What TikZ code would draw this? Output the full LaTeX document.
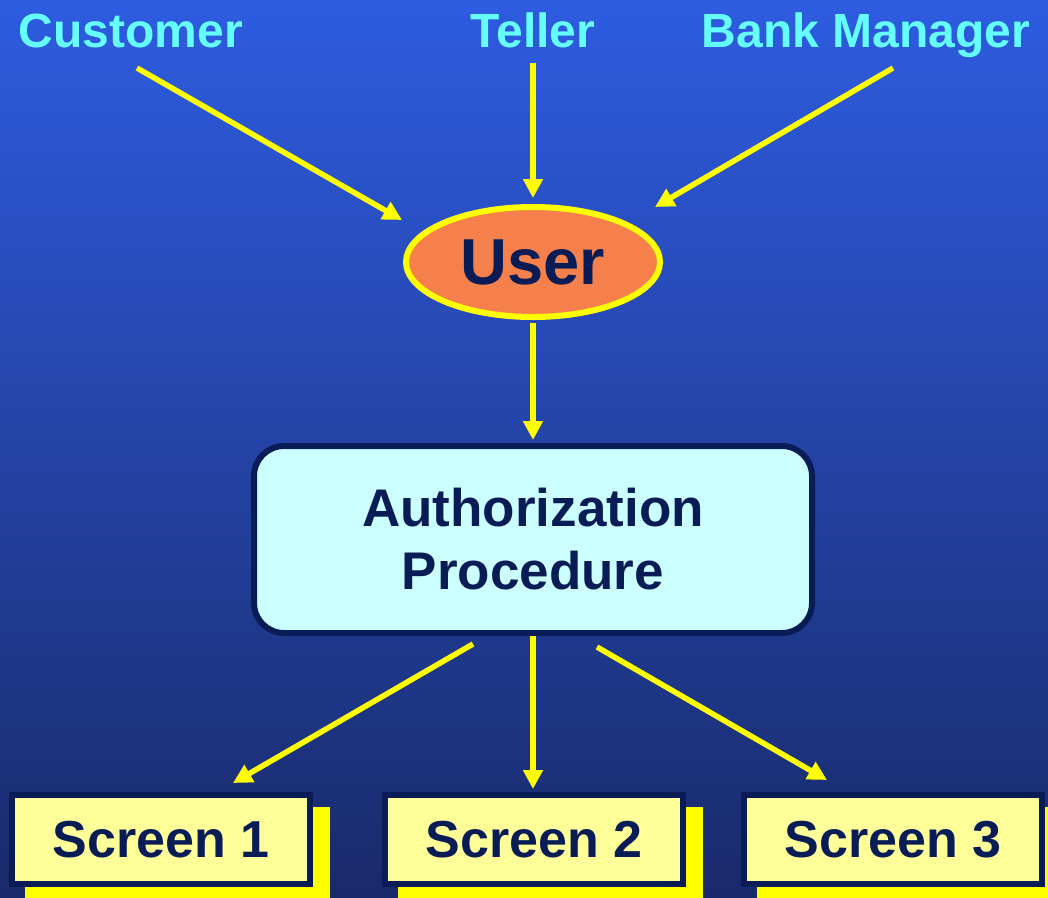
\documentclass[tikz,border=0pt]{standalone}
\usepackage{fontspec}
\setmainfont{Liberation Sans}
\usetikzlibrary{arrows.meta,shapes.geometric}

\definecolor{bgtop}{RGB}{46,92,224}
\definecolor{bgbot}{RGB}{25,42,106}
\definecolor{navy}{RGB}{10,28,86}
\definecolor{rolecyan}{RGB}{102,255,255}
\definecolor{userfill}{RGB}{245,128,76}
\definecolor{procfill}{RGB}{204,255,255}
\definecolor{screenfill}{RGB}{255,255,153}
\definecolor{flowyellow}{RGB}{255,255,0}

\begin{document}
\begin{tikzpicture}[x=1pt,y=-1pt,
  role/.style={text=rolecyan,font=\fontsize{48}{48}\selectfont\bfseries,anchor=base,inner sep=0pt},
  flow/.style={draw=flowyellow,line width=5.5pt,-{Triangle[length=19pt,width=19pt]}},
  userstyle/.style={ellipse,draw=flowyellow,line width=6pt,fill=userfill,text=navy,
    minimum width=254pt,minimum height=110pt,inner sep=0pt,
    font=\fontsize{65}{65}\selectfont\bfseries},
  procstyle/.style={rectangle,rounded corners=30pt,draw=navy,line width=6pt,fill=procfill,text=navy,
    minimum width=558pt,minimum height=187pt,inner sep=0pt,align=center,
    font=\fontsize{53}{63}\selectfont\bfseries},
  screenstyle/.style={rectangle,draw=navy,line width=6pt,fill=screenfill,text=navy,
    minimum width=298pt,minimum height=89pt,inner sep=0pt,
    font=\fontsize{52}{52}\selectfont\bfseries},
  screenshadow/.style={fill=flowyellow}
]
% background
\shade[top color=bgtop,bottom color=bgbot] (0,0) rectangle (1048,897);
\useasboundingbox (0,0) rectangle (1048,897);

% role labels
\node[role] (customer) at (131,47) {Customer};
\node[role] (teller) at (533,47) {Teller};
\node[role] (manager) at (866,47) {Bank Manager};

% central nodes
\node[userstyle] (user) at (533,262) {User};
\node[procstyle] (proc) at (533,539.5) {Authorization\\Procedure};

% screen shadows, then screens
\fill[screenshadow] (25,807) rectangle (330,900);
\fill[screenshadow] (398,807) rectangle (703,900);
\fill[screenshadow] (757,807) rectangle (1062,900);
\node[screenstyle] (s1) at (161,839.5) {Screen 1};
\node[screenstyle] (s2) at (534,839.5) {Screen 2};
\node[screenstyle] (s3) at (893,839.5) {Screen 3};

% connector end points
\coordinate (cA) at (137,68);   \coordinate (cB) at (402,220);
\coordinate (tA) at (533,63);   \coordinate (tB) at (533,198);
\coordinate (mA) at (893,68);   \coordinate (mB) at (655,207);
\coordinate (uA) at (533,323);  \coordinate (uB) at (533,440);
\coordinate (p1) at (473,644);  \coordinate (q1) at (233,783);
\coordinate (p2) at (533,636);  \coordinate (q2) at (533,789);
\coordinate (p3) at (597,647);  \coordinate (q3) at (827,780);

% connectors
\draw[flow] (cA) -- (cB);
\draw[flow] (tA) -- (tB);
\draw[flow] (mA) -- (mB);
\draw[flow] (uA) -- (uB);
\draw[flow] (p1) -- (q1);
\draw[flow] (p2) -- (q2);
\draw[flow] (p3) -- (q3);
\end{tikzpicture}
\end{document}
